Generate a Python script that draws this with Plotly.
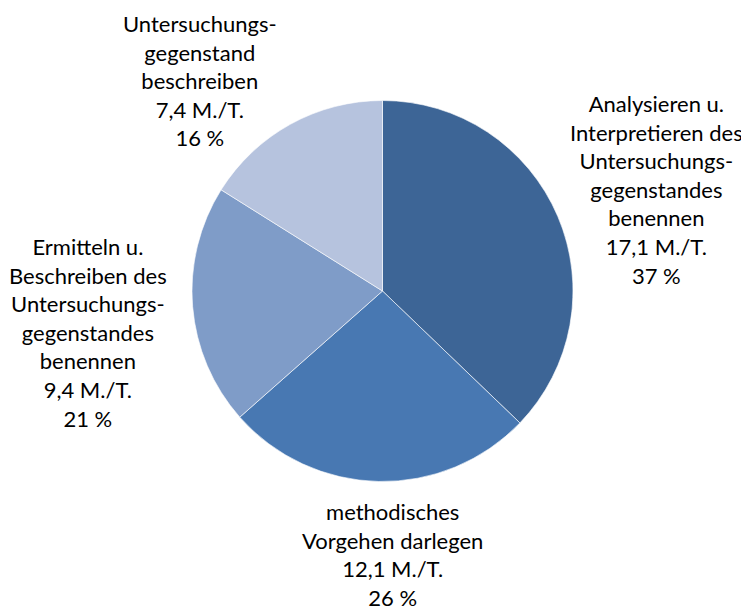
import plotly.graph_objects as go

# Data
labels = ["Analysieren u.<br>Interpretieren des<br>Untersuchungs-<br>gegenstandes<br>benennen",
          "methodisches<br>Vorgehen darlegen",
          "Ermitteln u.<br>Beschreiben des<br>Untersuchungs-<br>gegenstandes<br>benennen",
          "Untersuchungs-<br>gegenstand<br>beschreiben"]
values = [17.1, 12.1, 9.4, 7.4]
percents = [37, 26, 21, 16]
colors = ["#3D6596", "#4878B2", "#7F9CC8", "#B6C3DE"]

# label centres in page pixels
label_pos = [(656, 189), (392, 554), (88, 332), (200, 80)]

W, H = 749, 611
OFF = 8  # page body margin


def px(x):
    return (x - OFF) / W


def py(y):
    return 1 - (y - OFF) / H


fig = go.Figure(go.Pie(
    labels=labels,
    values=values,
    sort=False,
    direction="clockwise",
    rotation=0,
    marker=dict(colors=colors, line=dict(color="white", width=0.6)),
    textinfo="none",
    hoverinfo="label+value",
    showlegend=False,
    domain=dict(x=[px(382.5 - 190.5), px(382.5 + 190.5)],
                y=[py(481.5), py(100.5)]),
))

for lab, v, p, (lx, ly) in zip(labels, values, percents, label_pos):
    txt = f"{lab}<br>{str(v).replace('.', ',')} M./T.<br>{p} %"
    fig.add_annotation(x=px(lx), y=py(ly), xref="paper", yref="paper",
                       text=txt, showarrow=False, xanchor="center", yanchor="middle",
                       align="center", font=dict(family="Lato", size=22, color="#000000"))

fig.update_layout(width=W, height=H, margin=dict(l=0, r=0, t=0, b=0),
                  paper_bgcolor="white", plot_bgcolor="white")

fig.write_html("out.html")
